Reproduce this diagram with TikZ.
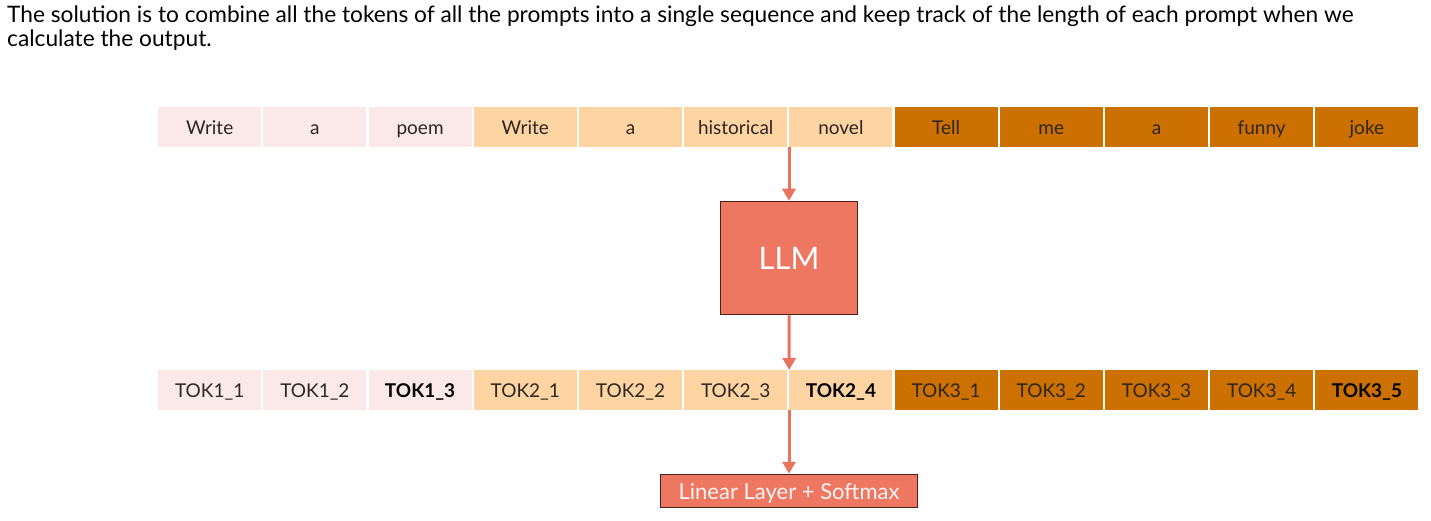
\documentclass[tikz,border=0pt]{standalone}
\usepackage{fontspec}
\setmainfont{Lato}
\usetikzlibrary{arrows.meta}
\definecolor{pinkc}{HTML}{FAE9E8}
\definecolor{peachc}{HTML}{FDD4A2}
\definecolor{darkc}{HTML}{CC7000}
\definecolor{salmon}{HTML}{EE7762}
\definecolor{arrowc}{HTML}{E8735F}
\definecolor{boxborder}{HTML}{4A2018}
\definecolor{txt}{HTML}{2E2622}
\begin{document}
\begin{tikzpicture}[x=1pt,y=-1pt,
  cell/.style={minimum width=103pt,minimum height=40pt,inner sep=0pt,anchor=north west,text height=14pt,text depth=0pt,font=\fontsize{19}{19}\selectfont,text=txt},
  pk/.style={cell,fill=pinkc},
  pc/.style={cell,fill=peachc},
  dk/.style={cell,fill=darkc},
  bold/.style={font=\fontsize{19}{19}\selectfont\bfseries,text=black},
  flow/.style={draw=arrowc,line width=3pt,-{Triangle[width=13pt,length=12pt]}}]
\useasboundingbox (0,0) rectangle (1431,521);
\node[anchor=north west,inner sep=0pt,align=left,font=\fontsize{22.7}{24}\selectfont,text=black] (title) at (7,6)
 {The solution is to combine all the tokens of all the prompts into a single sequence and keep track of the length of each prompt when we\\ calculate the output.};
% row 1
\node[pk] (a1) at (158,107) {Write};
\node[pk] (a2) at (263.2,107) {a};
\node[pk] (a3) at (368.4,107) {poem};
\node[pc] (a4) at (473.6,107) {Write};
\node[pc] (a5) at (578.8,107) {a};
\node[pc] (a6) at (684,107) {historical};
\node[pc] (a7) at (789.2,107) {novel};
\node[dk] (a8) at (894.4,107) {Tell};
\node[dk] (a9) at (999.6,107) {me};
\node[dk] (a10) at (1104.8,107) {a};
\node[dk] (a11) at (1210,107) {funny};
\node[dk] (a12) at (1315.2,107) {joke};
% row 2
\node[pk] (b1) at (158,370) {TOK1\_1};
\node[pk] (b2) at (263.2,370) {TOK1\_2};
\node[pk,bold] (b3) at (368.4,370) {TOK1\_3};
\node[pc] (b4) at (473.6,370) {TOK2\_1};
\node[pc] (b5) at (578.8,370) {TOK2\_2};
\node[pc] (b6) at (684,370) {TOK2\_3};
\node[pc,bold] (b7) at (789.2,370) {TOK2\_4};
\node[dk] (b8) at (894.4,370) {TOK3\_1};
\node[dk] (b9) at (999.6,370) {TOK3\_2};
\node[dk] (b10) at (1104.8,370) {TOK3\_3};
\node[dk] (b11) at (1210,370) {TOK3\_4};
\node[dk,bold] (b12) at (1315.2,370) {TOK3\_5};
% LLM
\node[draw=boxborder,line width=1.5pt,fill=salmon,minimum width=137pt,minimum height=113pt,inner sep=0pt,text=white,font=\fontsize{31}{31}\selectfont] (llm) at (789,258) {LLM};
\node[draw=boxborder,line width=1.5pt,fill=salmon,minimum width=257pt,minimum height=33pt,inner sep=0pt,text height=16pt,text depth=0pt,text=white!92!salmon,font=\fontsize{22}{22}\selectfont] (lin) at (789,491) {Linear Layer + Softmax};
\coordinate (s1) at (789,147);
\coordinate (s2) at (789,410);
\draw[flow] (s1) -- (llm.north);
\draw[flow] (llm.south) -- (b7.north west);
\draw[flow] (s2) -- (lin.north);
\end{tikzpicture}
\end{document}
